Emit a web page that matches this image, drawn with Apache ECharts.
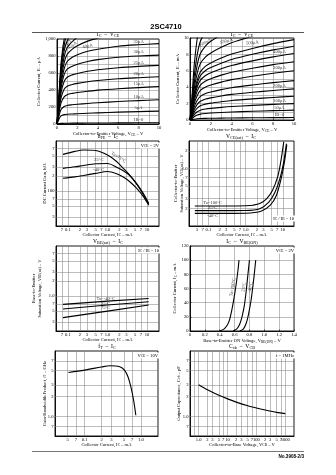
<!DOCTYPE html>
<html>
<head>
<meta charset="utf-8">
<script src="https://cdn.jsdelivr.net/npm/echarts@6.0.0/dist/echarts.min.js"></script>
<style>
html,body{margin:0;padding:0;background:#fff;}
#chart{width:336px;height:475px;}
</style>
</head>
<body>
<div id="chart"></div>
<script>
// ================= DATA =================
// Chart A : IC - VCE (lower current range), IB = 0, 5, 10 ... uA
const vceA = [0, 0.2, 0.4, 0.7, 1, 1.5, 2, 3, 4, 6, 8, 10];
const icA0  = [0, 4, 7, 8, 9, 10, 10, 11, 12, 13, 14, 15];
const icA1  = [0, 60, 95, 110, 115, 118, 121, 126, 131, 140, 146, 152];
const icA2  = [0, 100, 170, 205, 218, 226, 232, 242, 250, 264, 275, 285];
const icA3  = [0, 140, 250, 320, 345, 360, 370, 385, 398, 415, 428, 440];
const icA4  = [0, 170, 310, 410, 445, 465, 478, 498, 512, 532, 545, 556];
const icA5  = [0, 200, 370, 500, 550, 578, 595, 620, 638, 662, 678, 690];
const icA6  = [0, 230, 420, 580, 645, 680, 703, 735, 757, 785, 800, 810];
const icA7  = [0, 255, 470, 650, 735, 785, 815, 855, 880, 915, 933, 946];
const icA8  = [0, 280, 520, 720, 820, 880, 920, 975, 1010, 1060, 1100, 1140];
const icA9  = [0, 300, 570, 790, 900, 970, 1020, 1080, 1120, 1180, 1220, 1260];
const icA10 = [0, 320, 620, 860, 980, 1060, 1110, 1170, 1220, 1280, 1330, 1380];
const icA11 = [0, 340, 670, 930, 1060, 1140, 1200, 1260, 1310, 1380, 1430, 1480];
const icA12 = [0, 360, 720, 1000, 1140, 1220, 1280, 1350, 1400, 1470, 1530, 1580];
const notesA = [['IB=0', 8.0, 50], ['5μA', 8.0, 185], ['10μA', 8.0, 320], ['15μA', 8.0, 470],
  ['20μA', 8.0, 590], ['25μA', 8.0, 720], ['30μA', 8.0, 845], ['35μA', 8.0, 968],
  ['40μA', 3.0, 915, 12], ['45μA', 1.5, 925, 35], ['50μA', 0.95, 945, 45]];

// Chart B : IC - VCE (higher current range), IB = 0, 50, 100 ... uA
const vceB = [0, 0.2, 0.4, 0.7, 1, 1.5, 2, 3, 4, 6, 8, 10];
const icB0  = [0, 0.05, 0.1, 0.15, 0.18, 0.2, 0.21, 0.23, 0.25, 0.27, 0.29, 0.3];
const icB1  = [0, 0.18, 0.4, 0.6, 0.72, 0.8, 0.85, 0.92, 0.98, 1.07, 1.14, 1.2];
const icB2  = [0, 0.3, 0.66, 1.0, 1.2, 1.34, 1.42, 1.54, 1.64, 1.78, 1.9, 2.0];
const icB3  = [0, 0.44, 0.96, 1.45, 1.74, 1.94, 2.06, 2.23, 2.38, 2.58, 2.75, 2.9];
const icB4  = [0, 0.57, 1.25, 1.9, 2.28, 2.55, 2.7, 2.93, 3.12, 3.38, 3.6, 3.8];
const icB5  = [0, 0.72, 1.58, 2.4, 2.88, 3.22, 3.41, 3.7, 3.94, 4.27, 4.56, 4.8];
const icB6  = [0, 0.9, 1.98, 3.0, 3.6, 4.02, 4.26, 4.62, 4.92, 5.34, 5.7, 6.0];
const icB7  = [0, 1.07, 2.34, 3.55, 4.26, 4.76, 5.04, 5.47, 5.82, 6.32, 6.75, 7.1];
const icB8  = [0, 1.22, 2.67, 4.05, 4.86, 5.43, 5.75, 6.24, 6.64, 7.21, 7.7, 8.1];
const icB9  = [0, 1.35, 2.97, 4.5, 5.4, 6.03, 6.39, 6.93, 7.38, 8.01, 8.55, 9.0];
const icB10 = [0, 1.47, 3.23, 4.9, 5.88, 6.57, 6.96, 7.55, 8.04, 8.72, 9.31, 9.8];
const icB11 = [0, 1.7, 3.8, 5.75, 6.9, 7.7, 8.17, 8.86, 9.43, 10.2, 10.9, 11.5];
const icB12 = [0, 2.0, 4.45, 6.75, 8.1, 9.05, 9.6, 10.4, 11.1, 12.0, 12.8, 13.5];
const icB13 = [0, 2.4, 5.3, 8.0, 9.6, 10.7, 11.4, 12.3, 13.1, 14.2, 15.2, 16.0];
const icB14 = [0, 3.0, 6.6, 10.0, 12.0, 13.4, 14.2, 15.4, 16.4, 17.8, 19.0, 20.0];
const notesB = [['IB=0', 8.6, 0.62], ['50μA', 8.6, 1.55], ['100μA', 8.6, 2.37], ['200μA', 8.6, 4.15],
  ['300μA', 8.6, 6.34], ['400μA', 8.6, 8.29], ['500μA', 6.0, 9.4, 6], ['550μA', 3.5, 9.62, 15],
  ['600μA', 1.5, 9.45, 30]];

// Chart C : hFE - IC  (VCE = 2V)
const hfe75 = [[0.075, 540], [0.15, 620], [0.25, 660], [0.5, 645], [1, 525], [1.7, 390], [2.5, 285], [3.6, 210], [5.4, 142], [8, 90], [11, 57]];
const hfe25 = [[0.075, 284], [0.15, 305], [0.25, 325], [0.5, 350], [1, 355], [1.7, 300], [2.5, 255], [3.6, 205], [5.4, 138], [8, 85], [11, 54]];
const hfeM40 = [[0.075, 180], [0.15, 192], [0.25, 205], [0.5, 225], [1, 245], [1.7, 222], [2.5, 190], [3.6, 155], [5.4, 114], [8, 78], [11, 52]];
const notesC = [['Ta=75°C', 1.9, 470, -32], ['25°C', 0.6, 420], ['-40°C', 0.6, 268]];
const ticksCx = [[0.05, '5'], [0.07, '7'], [0.1, '0.1'], [0.2, '2'], [0.3, '3'], [0.5, '5'], [0.7, '7'], [1, '1.0'], [2, '2'], [3, '3'], [5, '5'], [7, '7'], [10, '10'], [20, '2']];
const ticksCy = [[20, '2'], [30, '3'], [50, '5'], [70, '7'], [100, '100'], [200, '2'], [300, '3'], [500, '5'], [700, '7'], [1000, '1000']];

// Chart D : VCE(sat) - IC
const vsat100 = [[0.043, 0.223], [0.1, 0.223], [0.3, 0.223], [1, 0.225], [1.6, 0.23], [2.4, 0.245], [3.7, 0.3], [5.3, 0.42], [7.3, 0.72], [8.8, 1.3], [10.6, 2.9]];
const vsat25 = [[0.043, 0.185], [0.1, 0.185], [0.3, 0.185], [1, 0.186], [2.4, 0.2], [4.2, 0.26], [6.2, 0.39], [8.4, 0.67], [10.6, 1.3], [12.5, 2.7]];
const vsatM40 = [[0.043, 0.166], [0.1, 0.166], [0.3, 0.166], [1, 0.167], [2.6, 0.18], [4.6, 0.23], [6.7, 0.34], [8.8, 0.62], [10.9, 1.22], [12.8, 2.6]];
const notesD = [['Ta=100°C', 0.13, 0.252], ['25°C', 0.13, 0.204], ['-40°C', 0.13, 0.151]];
const ticksDx = [[0.03, '3'], [0.05, '5'], [0.07, '7'], [0.1, '0.1'], [0.2, '2'], [0.3, '3'], [0.5, '5'], [0.7, '7'], [1, '1.0'], [2, '2'], [3, '3'], [5, '5'], [7, '7'], [10, '10'], [20, '2']];
const ticksDy = [[0.1, '0.1'], [0.2, '2'], [0.3, '3'], [0.5, '5'], [0.7, '7'], [1, '1.0'], [2, '2'], [3, '3']];

// Chart E : VBE(sat) - IC
const vbeM40 = [[0.075, 0.68], [1, 0.79], [11, 0.89]];
const vbe25 = [[0.075, 0.55], [1, 0.66], [11, 0.77]];
const vbe75 = [[0.075, 0.37], [1, 0.5], [11, 0.66]];
const notesE = [['Ta=-40°C', 0.9, 0.88], ['25°C', 0.9, 0.715], ['75°C', 0.9, 0.57]];
const ticksEx = ticksCx;
const ticksEy = [[0.2, '2'], [0.3, '3'], [0.5, '5'], [0.7, '7'], [1, '1.0'], [2, '2'], [3, '3'], [5, '5'], [7, '7'], [10, '10']];

// Chart F : IC - VBE(ON)  (VCE = 2V)
const vbon100 = [[0.40, 0], [0.46, 3], [0.50, 8], [0.53, 15], [0.56, 28], [0.59, 45], [0.62, 65], [0.645, 85], [0.66, 100]];
const vbon25 = [[0.58, 0], [0.63, 3], [0.67, 10], [0.70, 20], [0.73, 35], [0.755, 55], [0.775, 75], [0.79, 90], [0.80, 100]];
const vbonM40 = [[0.67, 0], [0.72, 3], [0.76, 12], [0.79, 25], [0.82, 42], [0.845, 62], [0.865, 80], [0.88, 95], [0.885, 100]];
const notesF = [['Ta=100°C', 0.575, 62, 80], ['25°C', 0.725, 62, 80], ['-40°C', 0.815, 62, 80]];

// Chart G : fT - IC  (VCE = 10V)
const ftData = [[0.052, 4.7], [0.1, 5.1], [0.2, 5.7], [0.28, 5.95], [0.42, 5.75], [0.51, 5.1], [0.59, 4.0], [0.67, 2.7], [0.74, 1.75], [0.81, 1.04]];
const ticksGx = [[0.03, '3'], [0.05, '5'], [0.07, '7'], [0.1, '0.1'], [0.2, '2'], [0.3, '3'], [0.5, '5'], [0.7, '7'], [1, '1.0'], [2, '2']];
const ticksGy = [[0.5, '5'], [0.7, '7'], [1, '1.0'], [2, '2'], [3, '3'], [5, '5'], [7, '7'], [10, '10']];

// Chart H : Cob - VCB  (f = 1MHz)
const cobData = [[1, 3.05], [2, 2.55], [5, 2.1], [10, 1.85], [20, 1.65], [50, 1.45], [100, 1.34], [200, 1.25], [500, 1.15], [1000, 1.1]];
const ticksHx = [[0.5, ''], [0.7, ''], [1, '1.0'], [2, '2'], [3, '3'], [5, '5'], [7, '7'], [10, '10'], [20, '2'], [30, '3'], [50, '5'], [70, '7'], [100, '100'], [200, '2'], [300, '3'], [500, '5'], [700, '7'], [1000, '1000'], [2000, '2']];
const ticksHy = ticksGy;

// ================= STYLE / LAYOUT =================
const SERIF = '"Liberation Serif", "DejaVu Serif", serif';
const SANS = '"Liberation Sans", Arial, sans-serif';
const FS = 4.6;
const GRIDC = '#7a7a7a';
const RICH = { s: { fontSize: 3.5, verticalAlign: 'bottom', fontFamily: SERIF, color: '#000' } };
const RICHT = { s: { fontSize: 4.2, verticalAlign: 'bottom', fontFamily: SERIF, color: '#000' } };

const LAYOUT = [
  { l: 57, t: 39, w: 102, h: 85 },
  { l: 190, t: 38, w: 104, h: 82 },
  { l: 56, t: 141, w: 103, h: 85 },
  { l: 189, t: 141, w: 105, h: 85 },
  { l: 56, t: 246, w: 103, h: 85 },
  { l: 190, t: 246, w: 104, h: 85 },
  { l: 55, t: 351, w: 103, h: 85 },
  { l: 190, t: 351, w: 104, h: 85 }
];

const AX = [
  { x: { type: 'value', min: 0, max: 10, interval: 2, minor: true, name: 'Collector-to-Emitter Voltage, V{s|CE} – V', gap: 5 },
    y: { type: 'value', min: 0, max: 1000, interval: 200, minor: true, name: 'Collector Current, I{s|C} – μA', gap: 10 } },
  { x: { type: 'value', min: 0, max: 10, interval: 2, minor: true, name: 'Collector-to-Emitter Voltage, V{s|CE} – V', gap: 5 },
    y: { type: 'value', min: 0, max: 10, interval: 2, minor: true, name: 'Collector Current, I{s|C} – mA', gap: 7 } },
  { x: { type: 'log', min: 0.05, max: 20, name: 'Collector Current, I{s|C} – mA', gap: 6 },
    y: { type: 'log', min: 20, max: 1000, name: 'DC Current Gain, h{s|FE}', gap: 9 } },
  { x: { type: 'log', min: 0.03, max: 20, name: 'Collector Current, I{s|C} – mA', gap: 6 },
    y: { type: 'log', min: 0.1, max: 3, name: 'Collector-to-Emitter\nSaturation Voltage, V{s|CE(sat)} – V', gap: 5 } },
  { x: { type: 'log', min: 0.05, max: 20, name: 'Collector Current, I{s|C} – mA', gap: 6 },
    y: { type: 'log', min: 0.2, max: 10, name: 'Base-to-Emitter\nSaturation Voltage, V{s|BE(sat)} – V', gap: 14 } },
  { x: { type: 'value', min: 0, max: 1.4, interval: 0.2, name: 'Base-to-Emitter ON Voltage, V{s|BE(ON)} – V', gap: 6,
         fmt: v => (v === 0 ? '0' : v.toFixed(1)) },
    y: { type: 'value', min: 0, max: 120, interval: 20, name: 'Collector Current, I{s|C} – mA', gap: 8 } },
  { x: { type: 'log', min: 0.03, max: 2, name: 'Collector Current, I{s|C} – mA', gap: 6 },
    y: { type: 'log', min: 0.5, max: 10, name: 'Gain-Bandwidth Product, f{s|T} – GHz', gap: 8 } },
  { x: { type: 'log', min: 0.5, max: 2000, name: 'Collector-to-Base Voltage, V{s|CB} – V', gap: 6 },
    y: { type: 'log', min: 0.5, max: 10, name: 'Output Capacitance, C{s|ob} – pF', gap: 9 } }
];

function makeAxis(gi, pos, c) {
  const isLog = c.type === 'log';
  const a = {
    gridIndex: gi, type: c.type, min: c.min, max: c.max, position: pos,
    name: c.name, nameLocation: 'middle', nameGap: c.gap,
    nameRotate: pos === 'left' ? 90 : 0,
    nameTextStyle: { fontSize: FS, fontFamily: SERIF, color: '#000', rich: RICH, lineHeight: 5.2 },
    axisLine: { show: true, lineStyle: { color: '#000', width: 0.9 } },
    axisTick: { show: !isLog, inside: true, length: 1.5, lineStyle: { color: '#000', width: 0.6 } },
    minorTick: { show: false, splitNumber: 2 },
    axisLabel: { show: !isLog, fontSize: FS, margin: 1.5, color: '#000', fontFamily: SERIF,
                 showMinLabel: true, showMaxLabel: true },
    splitLine: { show: !isLog, lineStyle: { color: GRIDC, width: 0.5 } },
    minorSplitLine: { show: !isLog && !!c.minor, lineStyle: { color: GRIDC, width: 0.5 } },
    silent: true
  };
  if (isLog) a.logBase = 10; else a.interval = c.interval;
  if (c.fmt) a.axisLabel.formatter = c.fmt;
  return a;
}

function gridMarks(xTicks, yTicks, xr, yr) {
  const lbl = { fontSize: FS, color: '#000', fontFamily: SERIF, distance: 1.5, position: 'start' };
  const data = [];
  xTicks.forEach(([v, t]) => {
    const it = { xAxis: v, label: t ? Object.assign({ show: true, formatter: t }, lbl) : { show: false } };
    if (v === xr[0] || v === xr[1]) it.lineStyle = { opacity: 0 };
    data.push(it);
  });
  yTicks.forEach(([v, t]) => {
    const it = { yAxis: v, label: t ? Object.assign({ show: true, formatter: t }, lbl) : { show: false } };
    if (v === yr[0] || v === yr[1]) it.lineStyle = { opacity: 0 };
    data.push(it);
  });
  return { silent: true, symbol: ['none', 'none'], z: 1, animation: false,
           lineStyle: { color: GRIDC, width: 0.5, type: 'solid' },
           emphasis: { disabled: true }, data };
}

function curve(gi, data, extra) {
  return Object.assign({ type: 'line', xAxisIndex: gi, yAxisIndex: gi, data, showSymbol: false, symbol: 'none',
    smooth: 0.3, lineStyle: { color: '#000', width: 1.1 }, silent: true, z: 3, animation: false,
    emphasis: { disabled: true } }, extra || {});
}

function notes(gi, arr) {
  return { type: 'scatter', xAxisIndex: gi, yAxisIndex: gi, symbolSize: 0.01, silent: true, z: 4, animation: false,
    itemStyle: { color: 'rgba(0,0,0,0)' },
    data: arr.map(n => ({ value: [n[1], n[2]],
      label: { show: true, position: 'inside', formatter: n[0], rotate: n[3] || 0,
               fontSize: FS, color: '#000', fontFamily: SERIF } })) };
}

const pairs = (xs, ys) => xs.map((x, i) => [x, ys[i]]);

// ================= SERIES =================
const series = [];
[icA0, icA1, icA2, icA3, icA4, icA5, icA6, icA7, icA8, icA9, icA10, icA11, icA12]
  .forEach(a => series.push(curve(0, pairs(vceA, a))));
series.push(notes(0, notesA));

[icB0, icB1, icB2, icB3, icB4, icB5, icB6, icB7, icB8, icB9, icB10, icB11, icB12, icB13, icB14]
  .forEach(a => series.push(curve(1, pairs(vceB, a))));
series.push(notes(1, notesB));

series.push(curve(2, hfe75, { markLine: gridMarks(ticksCx, ticksCy, [0.05, 20], [20, 1000]) }));
series.push(curve(2, hfe25));
series.push(curve(2, hfeM40));
series.push(notes(2, notesC));

series.push(curve(3, vsat100, { markLine: gridMarks(ticksDx, ticksDy, [0.03, 20], [0.1, 3]) }));
series.push(curve(3, vsat25));
series.push(curve(3, vsatM40));
series.push(notes(3, notesD));

series.push(curve(4, vbeM40, { smooth: false, markLine: gridMarks(ticksEx, ticksEy, [0.05, 20], [0.2, 10]) }));
series.push(curve(4, vbe25, { smooth: false }));
series.push(curve(4, vbe75, { smooth: false }));
series.push(notes(4, notesE));

series.push(curve(5, vbon100));
series.push(curve(5, vbon25));
series.push(curve(5, vbonM40));
series.push(notes(5, notesF));

series.push(curve(6, ftData, { markLine: gridMarks(ticksGx, ticksGy, [0.03, 2], [0.5, 10]) }));
series.push(curve(7, cobData, { markLine: gridMarks(ticksHx, ticksHy, [0.5, 2000], [0.5, 10]) }));

// ================= TITLES / CONDITIONS =================
const chartTitles = [
  ['I{s|C}  –  V{s|CE}', 108, 35], ['I{s|C}  –  V{s|CE}', 242, 35],
  ['h{s|FE}  –  I{s|C}', 108, 137], ['V{s|CE(sat)}  –  I{s|C}', 241, 137],
  ['V{s|BE(sat)}  –  I{s|C}', 108, 242], ['I{s|C}  –  V{s|BE(ON)}', 242, 242],
  ['f{s|T}  –  I{s|C}', 107, 347], ['C{s|ob}  –  V{s|CB}', 242, 347]
];
const conditions = [
  ['V{s|CE} = 2V', 158, 142.5], ['I{s|C} / I{s|B} = 10', 293, 215.5],
  ['I{s|C} / I{s|B} = 10', 158, 247.5], ['V{s|CE} = 2V', 293, 247.5],
  ['V{s|CE} = 10V', 157, 352.5], ['f = 1MHz', 293, 352.5]
];
const title = [];
chartTitles.forEach(([t, x, y]) => title.push({ text: t, left: x, top: y, textAlign: 'center', textVerticalAlign: 'middle',
  padding: 0, textStyle: { fontSize: 5.6, fontWeight: 'normal', fontFamily: SERIF, color: '#000', rich: RICHT } }));
conditions.forEach(([t, x, y]) => title.push({ text: t, left: x, top: y, textAlign: 'right', padding: [0.5, 1],
  backgroundColor: '#fff', z: 10,
  textStyle: { fontSize: FS, fontWeight: 'normal', fontFamily: SERIF, color: '#000', rich: RICH } }));

// ================= OPTION =================
const option = {
  backgroundColor: '#fff',
  animation: false,
  textStyle: { fontFamily: SERIF },
  title,
  grid: LAYOUT.map(g => ({ left: g.l, top: g.t, width: g.w, height: g.h, show: true, borderColor: '#000',
    borderWidth: 0.9, backgroundColor: 'transparent', containLabel: false, outerBoundsMode: 'none' })),
  xAxis: AX.map((a, i) => makeAxis(i, 'bottom', a.x)),
  yAxis: AX.map((a, i) => makeAxis(i, 'left', a.y)),
  series,
  graphic: [
    { type: 'text', x: 166, y: 27, z: 10, style: { text: '2SC4710', fill: '#000', fontSize: 7.5, fontWeight: 'bold',
      fontFamily: SANS, align: 'center', verticalAlign: 'middle' } },
    { type: 'line', z: 10, shape: { x1: 32, y1: 32.5, x2: 304, y2: 32.5 }, style: { stroke: '#555', lineWidth: 1 } },
    { type: 'line', z: 10, shape: { x1: 32, y1: 451.5, x2: 304, y2: 451.5 }, style: { stroke: '#777', lineWidth: 1.2 } },
    { type: 'text', x: 304, y: 457, z: 10, style: { text: 'No.3908-2/3', fill: '#000', fontSize: 4.6, fontWeight: 'bold',
      fontFamily: SANS, align: 'right', verticalAlign: 'middle' } }
  ]
};

const chart = echarts.init(document.getElementById('chart'), null, { renderer: 'canvas' });
chart.setOption(option);
</script>
</body>
</html>
